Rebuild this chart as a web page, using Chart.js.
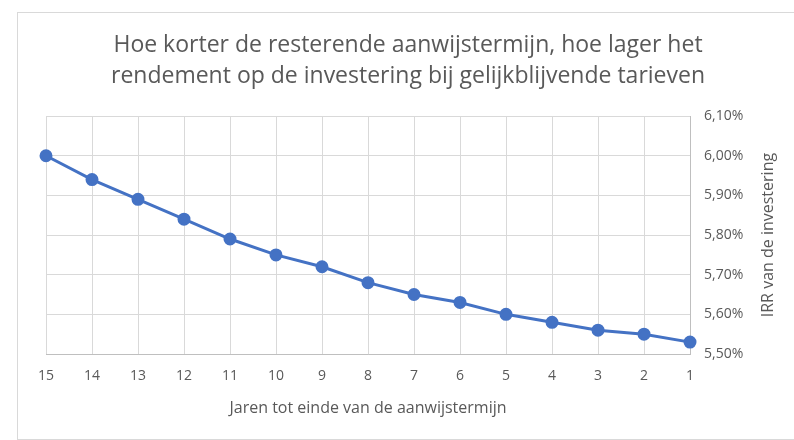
<!DOCTYPE html>
<html>
<head>
  <title>IRR per resterende aanwijstermijn</title>
  <script src="https://cdn.jsdelivr.net/npm/chart.js"></script>
  <style>
    body { margin: 0; background: white; font-family: "Open Sans", Lato, sans-serif; }
    .frame {
      position: absolute;
      left: 17px;
      top: 12px;
      width: 800px;
      height: 426px;
      border: 1px solid #d9d9d9;
    }
    .wrap { position: absolute; left: 0; top: 0; width: 794px; height: 440px; }
  </style>
</head>
<body>
  <div class="frame"></div>
  <div class="wrap">
    <canvas id="irrChart" width="794" height="440"></canvas>
  </div>

  <script>
    // years left until end of the term (x axis, from 15 down to 1)
    const years = ['15', '14', '13', '12', '11', '10', '9', '8', '7', '6', '5', '4', '3', '2', '1'];
    // IRR in percent
    const irr = [6.00, 5.94, 5.89, 5.84, 5.79, 5.75, 5.72, 5.68, 5.65, 5.63, 5.60, 5.58, 5.56, 5.55, 5.53];
    const yTicks = [5.5, 5.6, 5.7, 5.8, 5.9, 6.0, 6.1];
    const yTitle = 'IRR van de investering';

    const grey = '#595959';

    // right axis title, drawn bottom-to-top like in the original
    const rightTitle = {
      id: 'rightTitle',
      afterDraw(chart) {
        const ctx = chart.ctx;
        const area = chart.chartArea;
        ctx.save();
        ctx.translate(768, (area.top + area.bottom) / 2);
        ctx.rotate(-Math.PI / 2);
        ctx.fillStyle = grey;
        ctx.font = '16px "Open Sans"';
        ctx.textAlign = 'center';
        ctx.textBaseline = 'middle';
        ctx.fillText(yTitle, 0, 0);
        ctx.restore();
      }
    };

    new Chart(document.getElementById('irrChart'), {
      type: 'line',
      data: {
        labels: years,
        datasets: [{
          label: 'IRR',
          data: irr,
          xAxisID: 'x',
          yAxisID: 'y',
          borderColor: '#4472C4',
          backgroundColor: '#4472C4',
          borderWidth: 3,
          pointRadius: 5,
          pointHoverRadius: 5,
          tension: 0
        }]
      },
      plugins: [rightTitle],
      options: {
        responsive: false,
        animation: false,
        devicePixelRatio: 1,
        layout: { padding: { left: 22, top: 24, right: 0, bottom: 0 } },
        plugins: {
          legend: { display: false },
          tooltip: { enabled: false },
          title: {
            display: true,
            text: ['Hoe korter de resterende aanwijstermijn, hoe lager het',
                   'rendement op de investering bij gelijkblijvende tarieven'],
            color: grey,
            font: { family: '"Open Sans"', size: 23, weight: 'normal', lineHeight: 1.35 },
            padding: { top: 6, bottom: 24 }
          }
        },
        scales: {
          x: {
            offset: false,
            grid: { color: '#d9d9d9', drawTicks: false },
            border: { color: '#bfbfbf' },
            ticks: { color: grey, font: { family: '"Open Sans"', size: 14 }, padding: 14, maxRotation: 0, autoSkip: false },
            title: {
              display: true,
              text: 'Jaren tot einde van de aanwijstermijn',
              color: grey,
              font: { family: '"Open Sans"', size: 16 },
              padding: { top: 4, bottom: 22 }
            },
            afterFit: function (scale) { scale.height = 86; }
          },
          // empty spacer on the left so the plot starts at the right place
          spacer: {
            type: 'linear',
            axis: 'y',
            position: 'left',
            grid: { display: false },
            border: { display: false },
            ticks: { display: false },
            afterFit: function (scale) { scale.width = 24; }
          },
          y: {
            position: 'right',
            min: 5.5,
            max: 6.1,
            afterBuildTicks: function (scale) {
              scale.ticks = yTicks.map(function (v) { return { value: v }; });
            },
            grid: { color: '#d9d9d9', drawTicks: false },
            border: { color: '#bfbfbf' },
            ticks: {
              color: grey,
              font: { family: '"Open Sans"', size: 14 },
              padding: 14,
              callback: function (v) { return v.toFixed(2).replace('.', ',') + '%'; }
            },
            afterFit: function (scale) { scale.width = 104; }
          }
        }
      }
    });
  </script>
</body>
</html>
